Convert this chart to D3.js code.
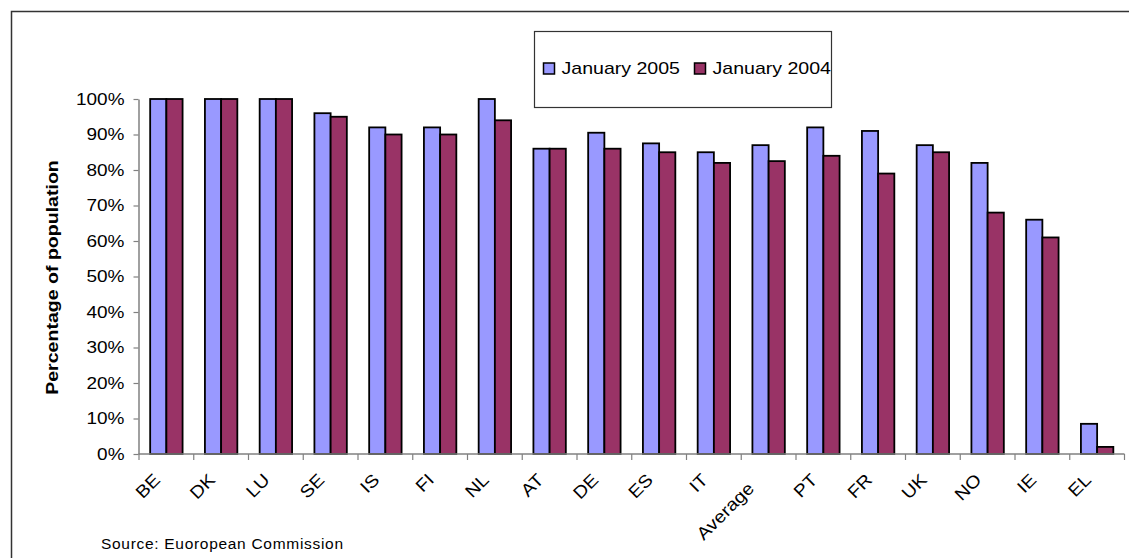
<!DOCTYPE html>
<html>
<head>
<meta charset="utf-8">
<script src="https://cdn.jsdelivr.net/npm/d3@7"></script>
<style>
  body { margin: 0; background: #fff; }
  text { font-family: "Liberation Sans", Arial, sans-serif; fill: #000; }
</style>
</head>
<body>
<svg id="chart" width="1129" height="558"></svg>
<script>
// Broadband coverage by country, share of population
const categories = ["BE", "DK", "LU", "SE", "IS", "FI", "NL", "AT", "DE", "ES", "IT", "Average", "PT", "FR", "UK", "NO", "IE", "EL"];
const jan2005 = [100, 100, 100, 96, 92, 92, 100, 86, 90.5, 87.5, 85, 87, 92, 91, 87, 82, 66, 8.5];
const jan2004 = [100, 100, 100, 95, 90, 90, 94, 86, 86, 85, 82, 82.5, 84, 79, 85, 68, 61, 2];
const seriesNames = ["January 2005", "January 2004"];
const seriesColors = ["#9999FF", "#993366"];
const yTickValues = [0, 10, 20, 30, 40, 50, 60, 70, 80, 90, 100];
const yTitle = "Percentage of population";
const sourceNote = "Source: Euoropean Commission";

const svg = d3.select("#chart");

// Excel-style text is drawn a little wider than the plain font
function widen(sel, k) {
  sel.each(function () {
    const w = this.getComputedTextLength();
    this.setAttribute("textLength", (w * k).toFixed(1));
    this.setAttribute("lengthAdjust", "spacingAndGlyphs");
  });
}

// outer chart frame (runs past the right and bottom edges)
svg.append("rect")
  .attr("x", 11.5).attr("y", 11.5)
  .attr("width", 1300).attr("height", 700)
  .attr("fill", "none")
  .attr("stroke", "#333").attr("stroke-width", 1.5);

const plot = { left: 139, right: 1124.5, top: 99, bottom: 454 };

const x = d3.scaleBand()
  .domain(categories)
  .range([plot.left, plot.right])
  .paddingInner(0).paddingOuter(0);

const y = d3.scaleLinear()
  .domain([0, 100])
  .range([plot.bottom, plot.top]);

const barW = x.bandwidth() * 0.296;
const pairOffset = (x.bandwidth() - 2 * barW) / 2;

// y axis
const yAxis = d3.axisLeft(y)
  .tickValues(yTickValues)
  .tickFormat(d => d + "%")
  .tickSize(5)
  .tickSizeOuter(0)
  .tickPadding(9);

const gy = svg.append("g")
  .attr("transform", `translate(${plot.left - 0.5},0)`)
  .call(yAxis);
gy.select(".domain").attr("stroke", "#808080").attr("stroke-width", 1.5);
gy.selectAll(".tick line").attr("stroke", "#808080").attr("stroke-width", 1.2);
gy.selectAll(".tick text")
  .attr("font-size", 16.5)
  .attr("font-family", "'Liberation Sans', Arial, sans-serif")
  .attr("fill", "#000")
  .call(widen, 1.15);

// bars
const rows = categories.map((c, i) => ({ c, v: [jan2005[i], jan2004[i]] }));
const groups = svg.append("g").selectAll("g")
  .data(rows)
  .join("g")
  .attr("transform", d => `translate(${x(d.c) + pairOffset},0)`);

groups.selectAll("rect")
  .data(d => d.v.map((v, s) => ({ v, s })))
  .join("rect")
  .attr("x", d => d.s * barW)
  .attr("y", d => y(d.v))
  .attr("width", barW)
  .attr("height", d => y(0) - y(d.v))
  .attr("fill", d => seriesColors[d.s])
  .attr("stroke", "#000")
  .attr("stroke-width", 1.8);

// x axis line with ticks between categories
const gx = svg.append("g");
gx.append("line")
  .attr("x1", plot.left - 0.5).attr("x2", plot.right)
  .attr("y1", plot.bottom).attr("y2", plot.bottom)
  .attr("stroke", "#808080").attr("stroke-width", 1.5);
const bounds = categories.map(c => x(c)).concat([plot.right]);
gx.selectAll("line.tk")
  .data(bounds)
  .join("line")
  .attr("class", "tk")
  .attr("x1", d => d).attr("x2", d => d)
  .attr("y1", plot.bottom).attr("y2", plot.bottom + 6)
  .attr("stroke", "#808080").attr("stroke-width", 1.2);

// category labels at 45°; long labels are pushed a little further down the slant
gx.selectAll("text")
  .data(categories)
  .join("text")
  .attr("transform", d => {
    const push = d.length > 4 ? 12 : 0;
    const cx = x(d) + x.bandwidth() / 2 - 5 - push * 0.707;
    const cy = plot.bottom + 27 + push * 0.707;
    return `translate(${cx},${cy}) rotate(-45)`;
  })
  .attr("text-anchor", "end")
  .attr("font-size", 17.5)
  .text(d => d)
  .call(widen, 1.12);

// y axis title
svg.append("text")
  .attr("transform", `translate(58,${(plot.top + plot.bottom) / 2 + 1}) rotate(-90)`)
  .attr("text-anchor", "middle")
  .attr("font-size", 17)
  .attr("font-weight", "bold")
  .text(yTitle)
  .call(widen, 1.15);

// legend
const legend = svg.append("g");
legend.append("rect")
  .attr("x", 534.5).attr("y", 31.5)
  .attr("width", 297).attr("height", 76)
  .attr("fill", "#fff")
  .attr("stroke", "#333").attr("stroke-width", 1.2);

const legendX = [543, 694];
const items = legend.selectAll("g.item")
  .data(seriesNames)
  .join("g")
  .attr("class", "item")
  .attr("transform", (d, i) => `translate(${legendX[i]},0)`);
items.append("rect")
  .attr("x", 0.5).attr("y", 63)
  .attr("width", 11).attr("height", 11)
  .attr("fill", (d, i) => seriesColors[i])
  .attr("stroke", "#000").attr("stroke-width", 1.5);
items.append("text")
  .attr("x", 18.5).attr("y", 74)
  .attr("font-size", 17)
  .text(d => d)
  .call(widen, 1.15);

// source note
svg.append("text")
  .attr("x", 101).attr("y", 549)
  .attr("font-size", 15.5)
  .attr("textLength", 242)
  .attr("lengthAdjust", "spacing")
  .text(sourceNote);
</script>
</body>
</html>
